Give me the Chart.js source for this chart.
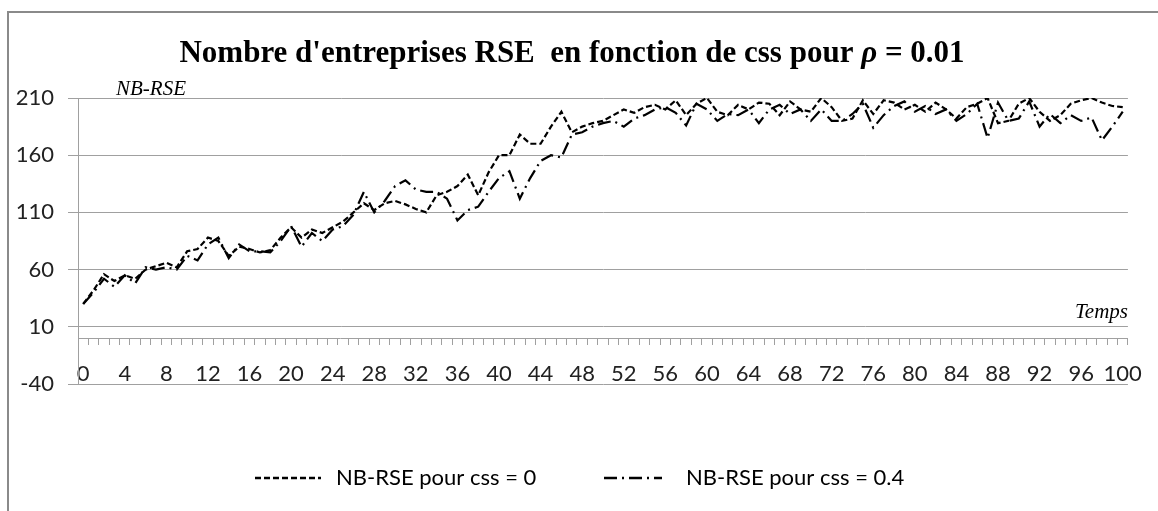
<!DOCTYPE html>
<html><head><meta charset="utf-8">
<script src="https://cdn.jsdelivr.net/npm/chart.js@4/dist/chart.umd.min.js"></script>
<style>html,body{margin:0;padding:0;background:#fff;}canvas{display:block;}</style>
</head><body>
<canvas id="c" width="1158" height="511"></canvas>
<script>
const categories = [0,1,2,3,4,5,6,7,8,9,10,11,12,13,14,15,16,17,18,19,20,21,22,23,24,25,26,27,28,29,30,31,32,33,34,35,36,37,38,39,40,41,42,43,44,45,46,47,48,49,50,51,52,53,54,55,56,57,58,59,60,61,62,63,64,65,66,67,68,69,70,71,72,73,74,75,76,77,78,79,80,81,82,83,84,85,86,87,88,89,90,91,92,93,94,95,96,97,98,99,100];
const rseCss0 = [30,42,56,50,55,52,60,63,66,62,76,78,88,85,72,80,78,75,77,88,97,88,95,92,97,102,110,118,112,118,120,117,113,110,125,128,133,143,125,145,160,160,178,170,170,185,198,180,185,188,190,
  195,200,197,202,204,200,208,195,205,210,198,195,204,200,206,205,195,207,200,198,210,202,190,192,208,196,208,206,200,204,198,206,200,192,202,205,210,188,190,205,210,198,190,195,205,208,210,206,203,202];
const rseCss04 = [30,40,52,45,55,48,62,60,62,60,72,68,82,88,70,82,76,76,75,85,98,80,92,85,95,98,108,128,110,120,133,138,130,128,128,122,103,112,115,128,140,146,122,140,155,160,158,178,180,185,188,
  190,185,192,195,200,202,197,186,205,200,190,196,195,200,188,200,204,196,200,190,200,190,190,196,205,184,195,203,207,198,203,196,200,190,196,205,175,206,190,192,207,185,196,188,195,190,193,173,185,198];
const yTicks = [-40,10,60,110,160,210];
const xLabelStep = 4;
const titleParts = [["Nombre d'entreprises RSE  en fonction de css pour ", false], ["\u03C1", true], [" = 0.01", false]];
const yAxisTitle = "NB-RSE";
const xAxisTitle = "Temps";
const seriesNames = ["NB-RSE pour css = 0", "NB-RSE pour css = 0.4"];
const dashes = [[6,3],[13,5,2,5]];

const decor = {
  id:'decor',
  afterDraw(chart){
    const ctx = chart.ctx;
    ctx.save();
    ctx.strokeStyle = '#8a8a8a'; ctx.lineWidth = 2; ctx.setLineDash([]);
    ctx.beginPath(); ctx.moveTo(8,511); ctx.lineTo(8,12); ctx.lineTo(1158,12); ctx.stroke();
    const fs = 31;
    const fonts = titleParts.map(p => (p[1] ? 'italic bold ' : 'bold ') + fs + 'px "Liberation Serif"');
    let total = 0; const ws = [];
    titleParts.forEach((p,i)=>{ ctx.font = fonts[i]; const w = ctx.measureText(p[0]).width; ws.push(w); total += w; });
    let x = 572 - total/2;
    ctx.fillStyle = '#000'; ctx.textBaseline = 'alphabetic'; ctx.textAlign = 'left';
    titleParts.forEach((p,i)=>{ ctx.font = fonts[i]; ctx.fillText(p[0], x, 62); x += ws[i]; });
    ctx.font = 'italic 21px "Liberation Serif"';
    ctx.fillText(yAxisTitle, 116, 95);
    ctx.textAlign = 'right';
    ctx.fillText(xAxisTitle, 1128, 318);
    ctx.textAlign = 'left'; ctx.textBaseline = 'middle';
    ctx.font = '22px Lato';
    const items = [{x0:255, x1:321, tx:336}, {x0:604, x1:662, tx:686}];
    items.forEach((it,i)=>{
      ctx.strokeStyle = '#000'; ctx.lineWidth = 2.4; ctx.setLineDash(dashes[i]);
      ctx.beginPath(); ctx.moveTo(it.x0, 478); ctx.lineTo(it.x1, 478); ctx.stroke();
      ctx.setLineDash([]);
      ctx.fillStyle = '#000';
      ctx.fillText(seriesNames[i], it.tx, 478);
    });
    ctx.restore();
  }
};

new Chart(document.getElementById('c'), {
  type:'line',
  data:{labels:categories, datasets:[
    {label:seriesNames[0], data:rseCss0, borderColor:'#000', borderWidth:2.2, borderDash:dashes[0], pointRadius:0, tension:0, fill:false},
    {label:seriesNames[1], data:rseCss04, borderColor:'#000', borderWidth:2.2, borderDash:dashes[1], pointRadius:0, tension:0, fill:false}
  ]},
  options:{
    responsive:false, animation:false, devicePixelRatio:1,
    layout:{padding:{left:0, right:25, top:98, bottom:127}},
    plugins:{legend:{display:false}, title:{display:false}, tooltip:{enabled:false}},
    scales:{
      x:{type:'category', position:{y:0}, offset:true,
        grid:{offset:true, drawOnChartArea:false, drawTicks:true, tickLength:6, color:'#a0a0a0', lineWidth:1},
        border:{display:true, color:'#a0a0a0', width:1},
        ticks:{autoSkip:false, maxRotation:0, minRotation:0, padding:16, color:'#222', font:{family:'Lato', size:22},
          callback:(v,i)=> i % xLabelStep === 0 ? String(categories[i]) : ''}},
      y:{min:-40, max:210,
        afterBuildTicks: s => { s.ticks = yTicks.map(v=>({value:v})); },
        afterFit: s => { s.width = 78; },
        grid:{color:'#a0a0a0', lineWidth:1, tickLength:10},
        border:{color:'#a0a0a0', width:1},
        ticks:{padding:14, color:'#222', font:{family:'Lato', size:22}}}
    }
  },
  plugins:[decor]
});
</script>
</body></html>
